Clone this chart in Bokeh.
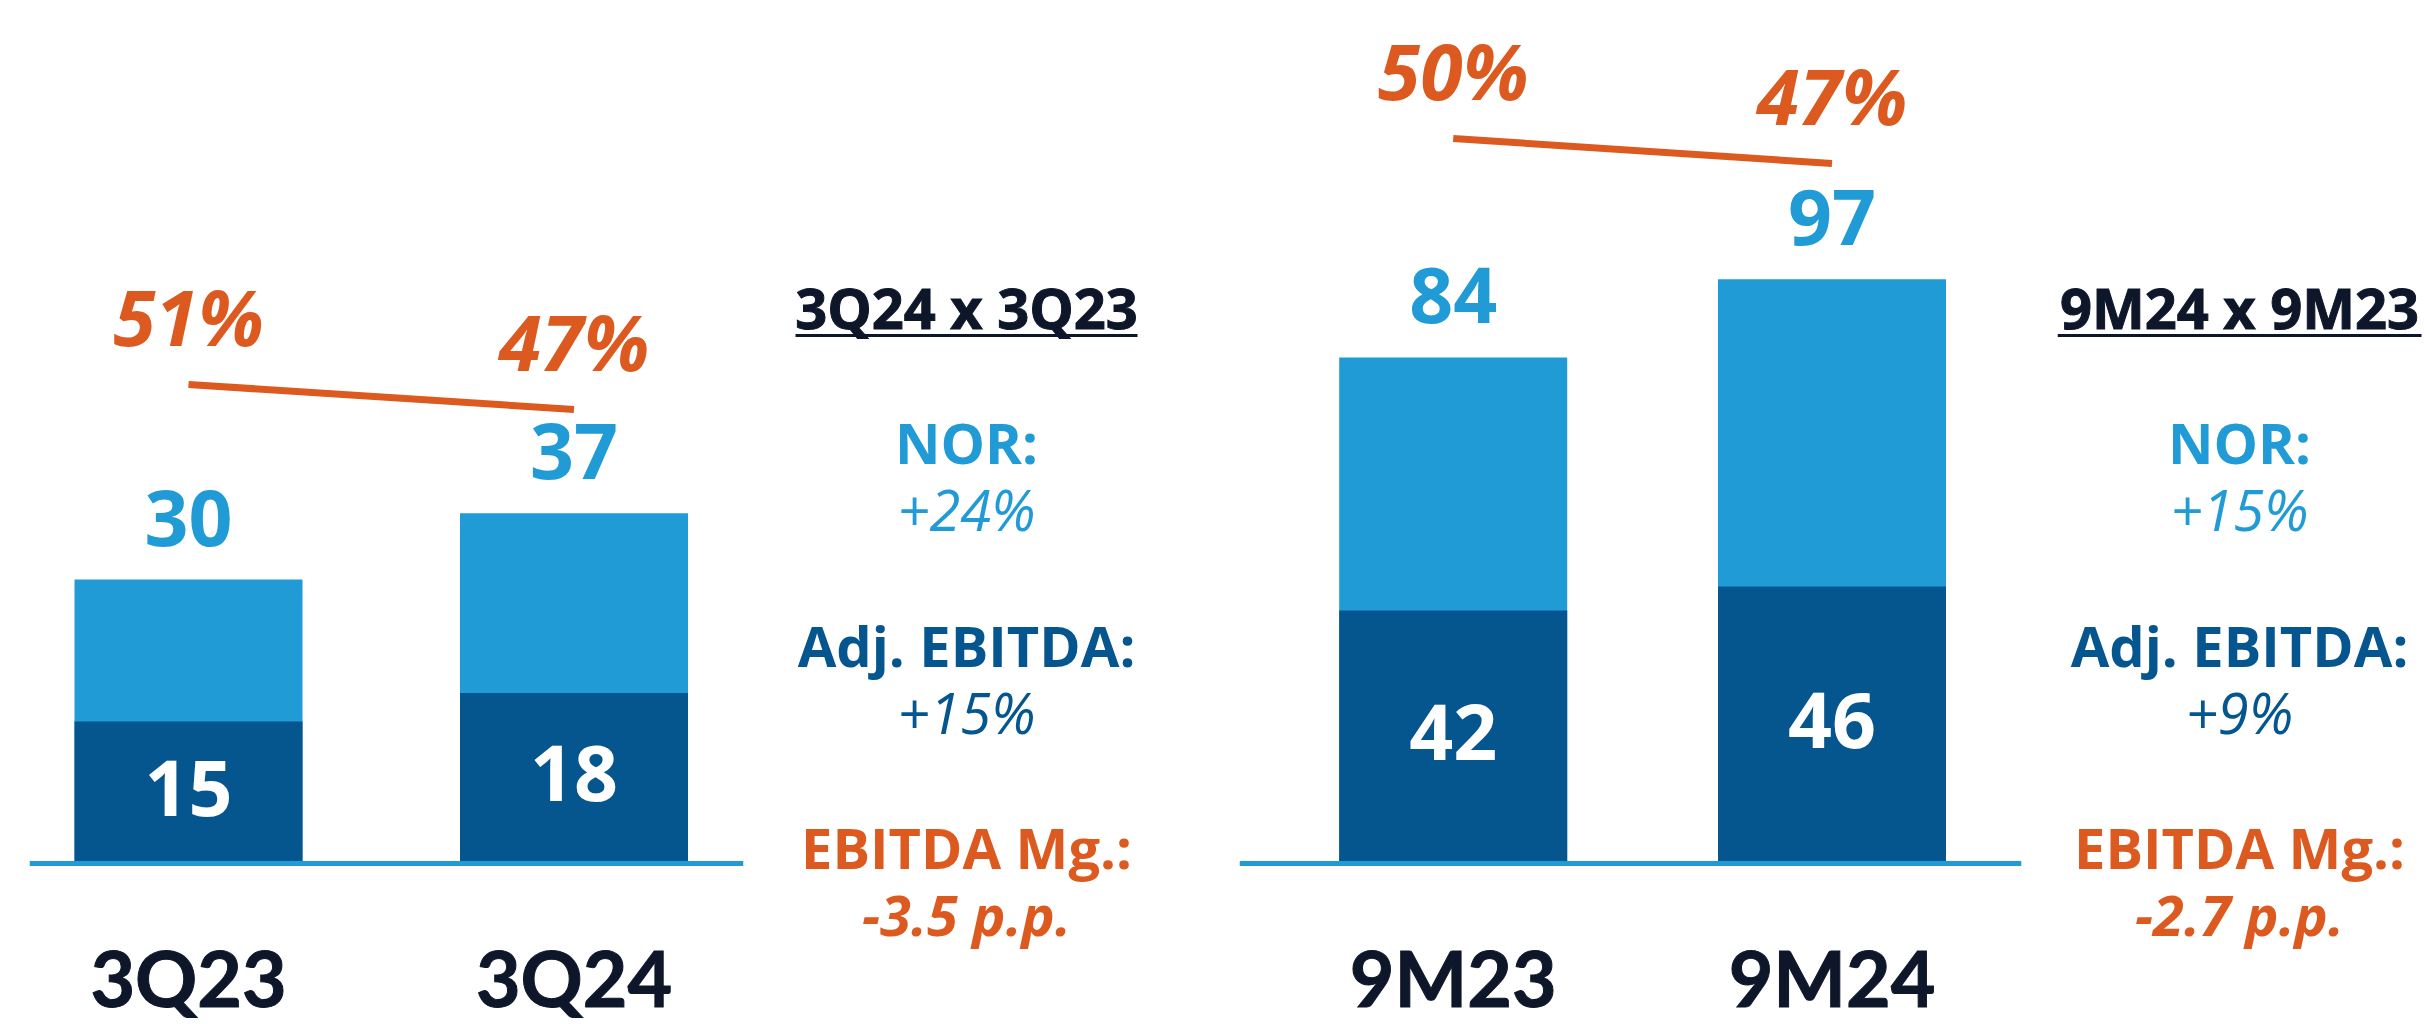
from bokeh.plotting import figure
from bokeh.layouts import row
from bokeh.models import Range1d, Span
from bokeh.core.properties import value
from bokeh.embed import file_html
from bokeh.resources import INLINE

# ---------------- data ----------------
q_cats = ["3Q23", "3Q24"]
q_nor = [30, 37]          # NOR (R$ mn)
q_ebitda = [15, 18]       # Adj. EBITDA (R$ mn)
q_margin = [51, 47]       # EBITDA margin (%)

ytd_cats = ["9M23", "9M24"]
ytd_nor = [84, 97]
ytd_ebitda = [42, 46]
ytd_margin = [50, 47]

comp_titles = ["3Q24 x 3Q23", "9M24 x 9M23"]
nor_growth = [24, 15]         # %
ebitda_growth = [15, 9]       # %
margin_change = [-3.5, -2.7]  # p.p.

# ---------------- style ----------------
LIGHT = "#209BD6"
DARK = "#05558F"
ORANGE = "#DC5A1F"
NAVY = "#0E1629"
FONT = "Open Sans"
CAT_FONT = "Lato"
H = 1024          # figure height
BASE = 863        # baseline, px from figure top


def base_fig(width, **kw):
    p = figure(width=width, height=H, toolbar_location=None, output_backend="svg",
               x_axis_type=None, y_axis_type=None, min_border=0, **kw)
    p.outline_line_color = None
    p.background_fill_color = None
    p.border_fill_color = None
    p.grid.visible = False
    return p


def chart(cats, nor, ebitda, margin, width, bl, br, c0, spacing, bar_px,
          px_per_unit, pct_anchor, pct_anchor_y, px_per_pct):
    fw = width - bl - br
    x0 = -c0 / spacing
    y0 = -(H - BASE) / px_per_unit
    ps = pct_anchor - (H - pct_anchor_y) / px_per_pct
    p = base_fig(width,
                 x_range=Range1d(x0, x0 + fw / spacing),
                 y_range=Range1d(y0, y0 + H / px_per_unit),
                 min_border_left=bl, min_border_right=br)
    p.extra_y_ranges = {"pct": Range1d(ps, ps + H / px_per_pct)}
    xs = list(range(len(cats)))
    bw = bar_px / spacing

    p.vbar(x=xs, top=nor, bottom=0, width=bw, fill_color=LIGHT, line_color=None)
    p.vbar(x=xs, top=ebitda, bottom=0, width=bw, fill_color=DARK, line_color=None)
    p.add_layout(Span(location=0, dimension="width", line_color=LIGHT, line_width=5))

    p.text(x=xs, y=nor, text=[str(v) for v in nor], text_font=value(FONT),
           text_font_style="bold", text_font_size="77px", text_color=LIGHT,
           text_align="center", text_baseline="middle", y_offset=-62)
    p.text(x=xs, y=[e / 2 for e in ebitda], text=[str(v) for v in ebitda],
           text_font=value(FONT), text_font_style="bold", text_font_size="77px",
           text_color="white", text_align="center", text_baseline="middle", y_offset=-5)

    p.line(x=xs, y=margin, y_range_name="pct", line_color=ORANGE, line_width=7)
    p.text(x=xs, y=margin, y_range_name="pct", text=[f"{m}%" for m in margin],
           text_font=value(FONT), text_font_style="bold italic", text_font_size="77px",
           text_color=ORANGE, text_align="center", text_baseline="middle", y_offset=-68)

    p.text(x=xs, y=[0] * len(cats), text=cats, text_font=value(CAT_FONT),
           text_font_style="bold", text_font_size="77px", text_color=NAVY,
           text_outline_color=NAVY,
           text_align="center", text_baseline="middle", y_offset=113)
    return p


def textblock(width, cx, title, ng, eg, mc, ul0, ul1):
    p = base_fig(width, x_range=Range1d(0, width), y_range=Range1d(H, 0))
    rows = [
        (title, NAVY, "bold", 306),
        ("NOR:", LIGHT, "bold", 441),
        (f"+{ng}%", LIGHT, "italic", 508),
        ("Adj. EBITDA:", DARK, "bold", 644),
        (f"+{eg}%", DARK, "italic", 711),
        ("EBITDA Mg.:", ORANGE, "bold", 846),
        (f"{mc} p.p.", ORANGE, "bold italic", 913),
    ]
    for txt, col, style, y in rows:
        p.text(x=[cx], y=[y], text=[txt], text_font=value(FONT), text_font_style=style,
               text_font_size="56px", text_color=col, text_align="center",
               text_baseline="middle",
               text_outline_color=(NAVY if col == NAVY else None))
    p.segment(x0=[ul0], y0=[335], x1=[ul1], y1=[335], line_color=NAVY, line_width=3)
    return p


f1 = chart(q_cats, q_nor, q_ebitda, q_margin, width=766, bl=29, br=23,
           c0=159, spacing=385.5, bar_px=228, px_per_unit=9.466,
           pct_anchor=51, pct_anchor_y=384, px_per_pct=6.25)
f2 = textblock(400, 200, comp_titles[0], nor_growth[0], ebitda_growth[0], margin_change[0], 29, 371)
f3 = chart(ytd_cats, ytd_nor, ytd_ebitda, ytd_margin, width=891, bl=73, br=36,
           c0=213.7, spacing=378.8, bar_px=228, px_per_unit=6.024,
           pct_anchor=50, pct_anchor_y=138, px_per_pct=8.333)
f4 = textblock(369, 182, comp_titles[1], nor_growth[1], ebitda_growth[1], margin_change[1], 0, 364)

layout = row(f1, f2, f3, f4, spacing=0)
open("out.html", "w").write(file_html(layout, INLINE))
